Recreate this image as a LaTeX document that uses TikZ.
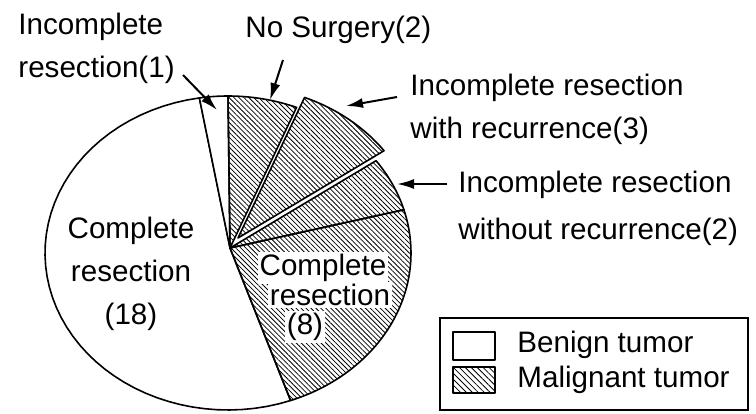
\documentclass[tikz,border=0pt]{standalone}
\usepackage{fontspec}
\setmainfont{Liberation Sans}
\usetikzlibrary{arrows.meta,patterns.meta}

\def\piecx{228}
\def\piecy{253}
\def\pierx{183}
\def\piery{157}

\begin{document}
\begin{tikzpicture}[x=0.5pt,y=-0.5pt,
		slice/.style={draw,line width=0.8pt,line join=round},
		hatch/.style={pattern={Lines[angle=-45,distance=1.75pt,line width=0.4pt]}},
		rim/.style={samples=50,variable=\t},
		lbl/.style={font=\fontsize{14.8}{21.5}\selectfont,inner sep=0pt},
		pointer/.style={line width=1pt,-{Latex[length=8.5pt,width=5pt]}}]
		\useasboundingbox (0,0) rectangle (756,413);
		\coordinate (O) at (230,248);
		% benign tumor
		\draw[slice,fill=white] (O) -- plot[rim,domain=70:261] ({\piecx+\pierx*cos(\t)},{\piecy+\piery*sin(\t)}) -- cycle;
		\draw[slice,fill=white] (O) -- plot[rim,domain=261:270] ({\piecx+\pierx*cos(\t)},{\piecy+\piery*sin(\t)}) -- cycle;
		% malignant tumor
		\draw[slice,hatch] (O) -- plot[rim,domain=270:292] ({\piecx+\pierx*cos(\t)},{\piecy+\piery*sin(\t)}) -- cycle;
		\begin{scope}[shift={(8,-10)}]
			\draw[slice,hatch] (230,248) -- plot[rim,domain=292:324] ({\piecx+\pierx*cos(\t)},{\piecy+\piery*sin(\t)}) -- cycle;
		\end{scope}
		\draw[slice,hatch] (O) -- plot[rim,domain=324:344] ({\piecx+\pierx*cos(\t)},{\piecy+\piery*sin(\t)}) -- cycle;
		\draw[slice,hatch] (O) -- plot[rim,domain=344:430] ({\piecx+\pierx*cos(\t)},{\piecy+\piery*sin(\t)}) -- cycle;
		% texts in the pie
		\node[lbl,align=center] (ben18) at (131,274) {Complete\\resection\\(18)};
		\node[lbl,fill=white,inner sep=1pt] (mal8a) at (323,268) {Complete};
		\node[lbl,fill=white,inner sep=1pt] (mal8b) at (330,295) {resection};
		\node[lbl,fill=white,inner sep=1pt] (mal8c) at (305,327) {(8)};
		% labels outside
		\node[lbl,align=left,anchor=west] (inc1lbl) at (18,48.5) {Incomplete\\resection(1)};
		\node[lbl,anchor=west] (nosurglbl) at (245,30) {No Surgery(2)};
		\node[lbl,align=left,anchor=west] (withlbl) at (410,109) {Incomplete resection\\with recurrence(3)};
		\node[lbl,align=left,anchor=west] (withoutlbl) at (458,208.5) {Incomplete resection\\[2pt]without recurrence(2)};
		% pointers
		\coordinate (inc1tail) at (183,75);
		\coordinate (inc1tip) at (217,110);
		\coordinate (nosurgtail) at (283,60);
		\coordinate (nosurgtip) at (270,100);
		\coordinate (withtail) at (397,97);
		\coordinate (withtip) at (346,106);
		\coordinate (withouttail) at (447,184);
		\coordinate (withouttip) at (397,184);
		\draw[pointer] (inc1tail) -- (inc1tip);
		\draw[pointer] (nosurgtail) -- (nosurgtip);
		\draw[pointer] (withtail) -- (withtip);
		\draw[pointer] (withouttail) -- (withouttip);
		% legend
		\draw[line width=0.9pt] (440,318) rectangle (748,410);
		\draw[slice,line width=0.6pt,fill=white] (453,332) rectangle (495,360);
		\draw[slice,line width=0.6pt,pattern={Lines[angle=-45,distance=2.1pt,line width=0.4pt]}] (453,367) rectangle (495,393);
		\node[lbl,anchor=west] (benignlbl) at (517,345) {Benign tumor};
		\node[lbl,anchor=west] (malignlbl) at (517,380) {Malignant tumor};
	\end{tikzpicture}
\end{document}
